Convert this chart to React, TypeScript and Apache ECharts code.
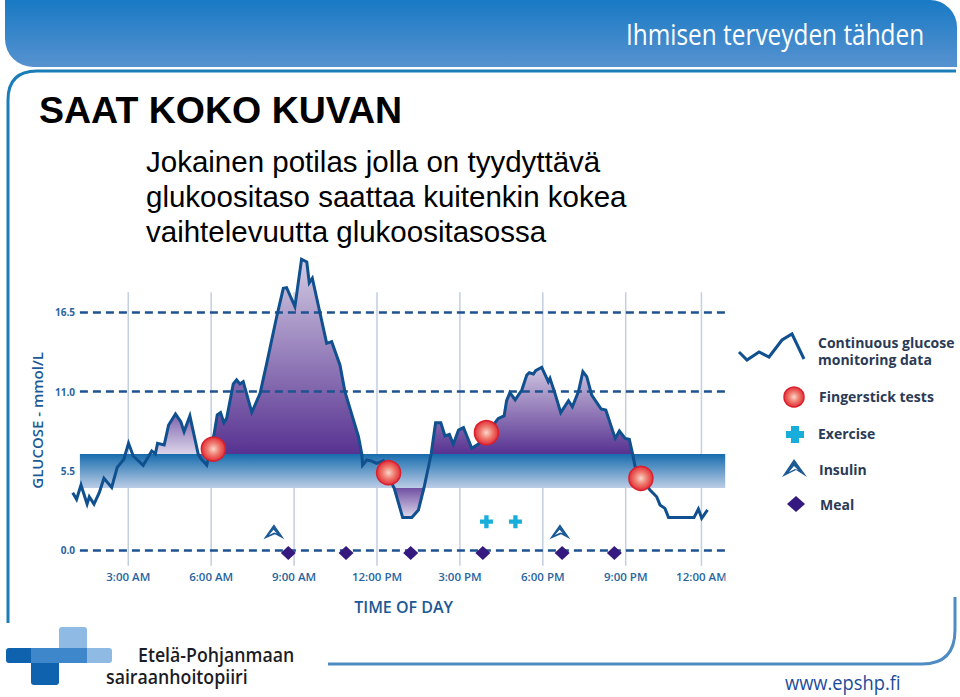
import React, { useEffect, useRef } from "react";
import * as echarts from "echarts";

// ---- Chart data ----
const hours = [0.99,1.13,1.29,1.51,1.59,1.76,1.95,2.12,2.40,2.60,2.84,3.01,3.18,3.54,3.85,3.98,4.06,4.30,4.46,4.71,4.90,5.02,5.23,5.53,5.62,5.84,5.93,6.10,6.22,6.34,6.46,6.56,6.80,6.92,7.04,7.16,7.47,7.77,8.01,8.37,8.61,8.73,9.03,9.27,9.46,9.55,9.66,10.18,10.36,10.66,10.84,11.33,11.45,11.48,11.63,11.77,11.99,12.23,12.42,12.59,12.62,12.93,13.26,13.50,13.62,13.70,13.96,14.12,14.31,14.46,14.62,14.76,14.95,15.13,15.43,15.67,15.97,16.39,16.60,16.69,16.81,17.00,17.24,17.42,17.51,17.66,17.74,17.96,18.20,18.26,18.44,18.65,18.93,19.07,19.29,19.45,19.59,19.77,20.11,20.28,20.62,20.77,20.98,21.13,21.25,21.34,21.54,21.88,22.12,22.24,22.42,22.55,23.47,23.63,23.75,23.96];
const glucose = [3.98,3.52,4.51,3.19,3.70,3.19,3.98,4.98,4.35,5.74,6.30,7.41,6.53,5.88,6.88,6.67,7.41,7.29,8.68,9.44,8.91,8.22,9.31,6.67,6.37,5.90,6.67,7.99,9.38,9.54,8.84,9.14,11.53,11.81,11.53,11.69,9.56,10.88,12.96,16.20,18.17,18.22,16.90,20.19,20.00,18.56,18.87,14.35,14.47,12.85,11.00,7.87,6.67,5.90,6.25,6.20,6.02,6.20,5.37,4.40,4.31,2.25,2.25,2.78,3.70,4.31,6.67,8.84,8.84,7.92,8.03,7.34,8.33,8.50,7.06,7.36,8.10,9.14,9.31,10.37,10.93,10.42,11.11,12.15,12.31,12.22,12.45,12.69,11.69,11.92,10.88,9.54,10.37,9.95,11.00,12.38,12.04,10.76,9.79,9.72,7.75,8.26,7.75,7.69,6.67,5.79,4.98,4.17,3.70,3.13,2.89,2.25,2.25,2.85,2.20,2.78];

const tickHours = [3, 6, 9, 12, 15, 18, 21, 23.74];
const tickLabels = ["3:00 AM","6:00 AM","9:00 AM","12:00 PM","3:00 PM","6:00 PM","9:00 PM","12:00 AM"];
const yTicks = [0, 5.5, 11, 16.5];
const dashedLevels = [0, 11, 16.5];
const bandTop = 6.67;
const bandBottom = 4.31;
const bandStart = 1.25;
const bandEnd = 24.6;

const fingerHours = [6.08, 12.42, 15.96, 21.55];
const fingerValues = [7.01, 5.37, 8.15, 4.98];
const exerciseHours = [15.96, 17.01];
const exerciseValues = [1.97, 1.97];
const insulinHours = [8.27, 18.62];
const insulinValues = [1.26, 1.26];
const mealHours = [8.79, 10.88, 13.22, 15.83, 18.70, 20.59];
const mealValues = [-0.2, -0.2, -0.2, -0.2, -0.2, -0.2];

const AXIS_BLUE = "#1c5a96";
const LINE_BLUE = "#10508f";
const TICK_FONT = "Open Sans";

const zipped = (xs: number[], ys: number[]) => xs.map((x, i) => [x, ys[i]]);
const slice = (from: number, to: number) => zipped(hours, glucose).filter((p) => p[0] >= from && p[0] <= to);
const grad = (top: string, bottom: string) => ({
  type: "linear", x: 0, y: 0, x2: 0, y2: 1,
  colorStops: [{ offset: 0, color: top }, { offset: 1, color: bottom }],
});
const ballFill = () => ({
  type: "radial", x: 0.5, y: 0.5, r: 0.5,
  colorStops: [{ offset: 0, color: "#fad6cd" }, { offset: 0.5, color: "#ef7d6f" }, { offset: 1, color: "#e2303a" }],
});

const CROSS = "path://M6 0H12V6H18V12H12V18H6V12H0V6H6Z";
const INSULIN = "path://M30 0L60 42L33 28L0 42ZM29 15L16 30L31 23L38 25Z";

const LEFT_FRAME = "M8 623L8 100Q8 71 37 71L956 71";
const RIGHT_FRAME = "M328 664L922 664Q955 664 955 630L955 597";

const textEl = (text: string, x: number, y: number, font: string, fill: string, scaleX = 1, lineHeight?: number) => ({
  type: "text", x, y, scaleX, z: 50,
  style: { text, x: 0, y: 0, font, fill, textAlign: "left", textVerticalAlign: "middle", lineHeight },
});

export default function App() {
  const ref = useRef<HTMLDivElement>(null);
  useEffect(() => {
    echarts.graphic.registerShape("frameLeft", echarts.graphic.extendPath(LEFT_FRAME, {}) as any);
    echarts.graphic.registerShape("frameRight", echarts.graphic.extendPath(RIGHT_FRAME, {}) as any);
    const chart = echarts.init(ref.current!, null, { renderer: "svg", width: 960, height: 697 });
    const areaSeries = (name: string, data: number[][], origin: number, top: string, bottom: string) => ({
      type: "line", name, data, showSymbol: false, symbol: "none", z: 3, clip: false,
      lineStyle: { width: 0 }, silent: true,
      areaStyle: { origin, color: grad(top, bottom), opacity: 1 },
    });
    const bold = '700 14px "Open Sans"';
    chart.setOption({
      animation: false,
      backgroundColor: "#ffffff",
      grid: { left: 60, width: 665.2, top: 276.4, height: 288 },
      xAxis: {
        type: "value", min: 0.53, max: 24.6,
        axisLine: { show: false }, axisTick: { show: false }, splitLine: { show: false },
        axisLabel: {
          customValues: tickHours, margin: 6, fontFamily: TICK_FONT, fontSize: 11.5, fontWeight: 600, color: "#28659f",
          hideOverlap: false, showMinLabel: true, showMaxLabel: true,
          formatter: (v: number) => tickLabels[tickHours.indexOf(v)] ?? "",
        },
        name: "TIME OF DAY", nameLocation: "middle", nameGap: 35, nameTextStyle: { fontFamily: TICK_FONT, fontSize: 16, fontWeight: 600, color: AXIS_BLUE, padding: [0, 0, 0, 22] },
      },
      yAxis: {
        type: "value", min: -1, max: 19,
        axisLine: { show: false }, axisTick: { show: false }, splitLine: { show: false },
        axisLabel: {
          customValues: yTicks, margin: -15, fontFamily: TICK_FONT, fontSize: 10, fontWeight: 700, color: "#28659f",
          formatter: (v: number) => v.toFixed(1),
        },
        name: "GLUCOSE - mmol/L", nameLocation: "middle", nameGap: 13,
        nameTextStyle: { fontFamily: TICK_FONT, fontSize: 15, fontWeight: 600, color: AXIS_BLUE },
      },
      series: [
        {
          type: "custom", name: "grid", z: 1, silent: true, data: tickHours.map((h) => [h, 0]),
          renderItem: (_p: any, api: any) => {
            const a = api.coord([api.value(0), -1.1]);
            const b = api.coord([api.value(0), 17.9]);
            return { type: "line", shape: { x1: a[0], y1: a[1], x2: b[0], y2: b[1] }, style: { stroke: "#c2cee2", lineWidth: 1.5 } };
          },
        },
        {
          type: "line", name: "levels", data: [], z: 2, silent: true,
          markLine: {
            symbol: "none", silent: true, label: { show: false },
            lineStyle: { color: "#1f5290", width: 2.5, type: [8, 5] },
            data: dashedLevels.map((v) => [{ coord: [bandStart, v] }, { coord: [bandEnd, v] }]),
          },
        },
        areaSeries("bump", slice(3.97, 5.53), bandTop, "#7d63ad", "#dcd5ea"),
        areaSeries("morning", slice(5.93, 11.45), bandTop, "#d3cbe3", "#573291"),
        areaSeries("dip", slice(12.62, 13.70), bandBottom, "#6f4fa3", "#e0daec"),
        areaSeries("afternoon", slice(13.96, 21.25), bandTop, "#cfc6e0", "#573291"),
        {
          type: "custom", name: "target", z: 4, silent: true, data: [[bandStart, bandTop]],
          renderItem: (_p: any, api: any) => {
            const a = api.coord([bandStart, bandTop]);
            const b = api.coord([bandEnd, bandBottom]);
            return {
              type: "rect", shape: { x: a[0], y: a[1], width: b[0] - a[0], height: b[1] - a[1] },
              style: { fill: grad("#166cae", "#bccde6") },
            };
          },
        },
        {
          type: "line", name: "Continuous glucose monitoring data", data: zipped(hours, glucose), z: 5, clip: false,
          showSymbol: false, symbol: "none", lineStyle: { color: LINE_BLUE, width: 3, join: "miter" },
        },
        {
          type: "scatter", name: "Fingerstick tests", data: zipped(fingerHours, fingerValues), z: 6,
          symbol: "circle", symbolSize: 24,
          itemStyle: { color: ballFill(), borderColor: "#d9202c", borderWidth: 1.5, opacity: 1 },
        },
        {
          type: "scatter", name: "Exercise", data: zipped(exerciseHours, exerciseValues), z: 6,
          symbol: CROSS, symbolSize: 13, itemStyle: { color: "#18aedb", opacity: 1 },
        },
        {
          type: "scatter", name: "Insulin", data: zipped(insulinHours, insulinValues), z: 6,
          symbol: INSULIN, symbolSize: [21, 15], itemStyle: { color: "#1c5a96", opacity: 1 },
        },
        {
          type: "scatter", name: "Meal", data: zipped(mealHours, mealValues), z: 6,
          symbol: "diamond", symbolSize: [15, 14], itemStyle: { color: "#35197f", opacity: 1 },
        },
      ],
      graphic: [
        // clip the last tick label at the right edge of the picture
        { type: "rect", z: 40, shape: { x: 725.5, y: 568, width: 11, height: 20 }, style: { fill: "#ffffff" } },
        // header
        { type: "rect", z: 30, shape: { x: 5, y: 0, width: 952, height: 67, r: [0, 27, 0, 28] }, style: { fill: grad("#187ac4", "#5792d0") } },
        { type: "frameLeft", z: 30, style: { fill: "none", stroke: "#1b7db8", lineWidth: 3 } },
        { type: "frameRight", z: 30, style: { fill: "none", stroke: "#4f8cc4", lineWidth: 3 } },
        textEl("Ihmisen terveyden tähden", 626, 33.5, '400 30px "Open Sans"', "#ffffff", 0.813),
        // headings
        textEl("SAAT KOKO KUVAN", 39, 110, 'bold 37.5px "Liberation Sans"', "#000000"),
        textEl("Jokainen potilas jolla on tyydyttävä", 146, 161.5, '29.5px "Liberation Sans"', "#000000"),
        textEl("glukoositaso saattaa kuitenkin kokea", 146, 196.5, '29.5px "Liberation Sans"', "#000000"),
        textEl("vaihtelevuutta glukoositasossa", 146, 231.5, '29.5px "Liberation Sans"', "#000000"),
        // legend
        { type: "polyline", z: 30, shape: { points: [[739,352],[747,360],[759,352],[769,357],[782,340],[792,334],[804,359]] }, style: { fill: "none", stroke: LINE_BLUE, lineWidth: 3 } },
        textEl("Continuous glucose\nmonitoring data", 818, 350.5, bold, "#2b3a55", 1, 17),
        { type: "circle", z: 30, shape: { cx: 794, cy: 397, r: 10 }, style: { fill: ballFill(), stroke: "#d9202c", lineWidth: 1.5 } },
        textEl("Fingerstick tests", 819, 396, bold, "#2b3a55"),
        { type: "polygon", z: 30, shape: { points: [[791,426],[799,426],[799,431],[804,431],[804,438],[799,438],[799,443],[791,443],[791,438],[786,438],[786,431],[791,431]] }, style: { fill: "#18aedb" } },
        textEl("Exercise", 818, 433, bold, "#2b3a55"),
        { type: "polygon", z: 30, shape: { points: [[794,459],[807,477],[796,470],[782,477]] }, style: { fill: "#1c5a96" } },
        { type: "polygon", z: 31, shape: { points: [[794,466],[789,472],[795,469],[798,470]] }, style: { fill: "#ffffff" } },
        textEl("Insulin", 819, 469, bold, "#2b3a55"),
        { type: "polygon", z: 30, shape: { points: [[796,496],[805,504],[796,512],[787,504]] }, style: { fill: "#35197f" } },
        textEl("Meal", 820, 504, bold, "#2b3a55"),
        // logo
        { type: "rect", z: 30, shape: { x: 59, y: 627, width: 28, height: 24, r: [3, 3, 0, 0] }, style: { fill: "#8fbae4" } },
        { type: "rect", z: 30, shape: { x: 31, y: 662, width: 28, height: 23, r: [0, 0, 3, 3] }, style: { fill: "#0f62ae" } },
        { type: "rect", z: 30, shape: { x: 6, y: 648, width: 27, height: 15, r: [3, 0, 0, 3] }, style: { fill: "#0f62ae" } },
        { type: "rect", z: 30, shape: { x: 85, y: 648, width: 27, height: 15, r: [0, 3, 3, 0] }, style: { fill: "#8fbae4" } },
        { type: "rect", z: 31, shape: { x: 31, y: 648, width: 56, height: 15 }, style: { fill: "#3f87cb" } },
        textEl("Etelä-Pohjanmaan", 138, 655, '600 20px "Open Sans"', "#1c1c24", 0.887),
        textEl("sairaanhoitopiiri", 106, 677, '600 20px "Open Sans"', "#1c1c24", 0.887),
        textEl("www.epshp.fi", 785, 683, '400 20px "Open Sans"', "#1b4b9b", 0.915),
      ],
    });
    return () => chart.dispose();
  }, []);
  return <div ref={ref} style={{ position: "absolute", left: 0, top: 0, width: 960, height: 697 }} />;
}
